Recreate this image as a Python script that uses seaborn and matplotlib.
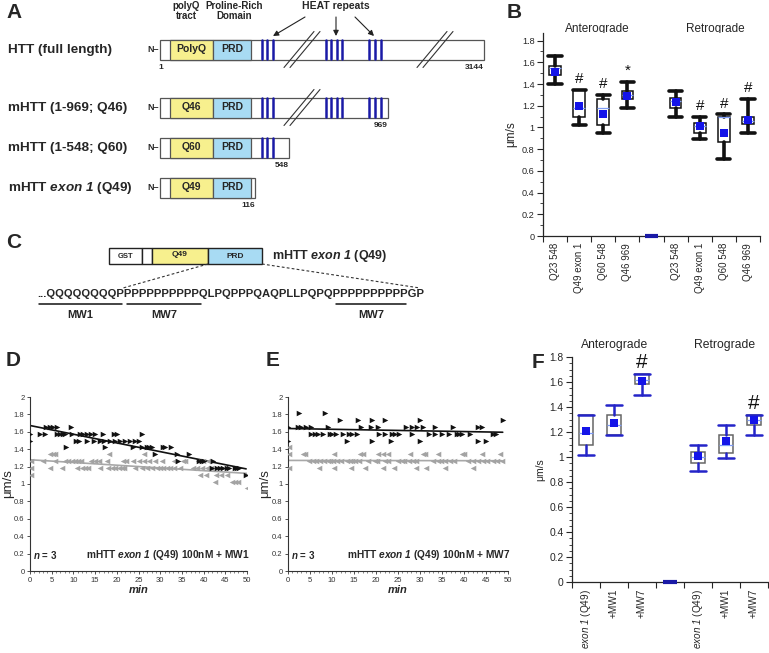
import numpy as np
import pandas as pd
import matplotlib
matplotlib.use("Agg")
import matplotlib.pyplot as plt
from matplotlib.patches import Rectangle
from matplotlib.ticker import MultipleLocator, FuncFormatter, FixedLocator
import seaborn as sns

sns.set_style("ticks")
plt.rcParams["font.family"] = ["Liberation Sans", "DejaVu Sans"]
plt.rcParams["mathtext.fontset"] = "custom"
plt.rcParams["mathtext.rm"] = "Liberation Sans"
plt.rcParams["mathtext.it"] = "Liberation Sans:italic"
plt.rcParams["mathtext.sf"] = "Liberation Sans:italic:bold"
plt.rcParams["mathtext.tt"] = "Liberation Sans:italic"
plt.rcParams["mathtext.bf"] = "Liberation Sans:bold"

# ---------------- data ----------------
# Panel B
b_labels = ["Q23 548", "Q49 exon 1", "Q60 548", "Q46 969", "",
            "Q23 548", "Q49 exon 1", "Q60 548", "Q46 969"]
b_whislo = [1.40, 1.02, 0.95, 1.18, 0.0, 1.10, 0.89, 0.71, 0.95]
b_q1     = [1.48, 1.10, 1.02, 1.26, 0.0, 1.18, 0.95, 0.87, 1.03]
b_med    = [1.55, 1.18, 1.18, 1.30, 0.0, 1.24, 1.01, 1.10, 1.06]
b_q3     = [1.57, 1.345, 1.26, 1.34, 0.0, 1.27, 1.04, 1.10, 1.10]
b_whishi = [1.66, 1.345, 1.30, 1.42, 0.0, 1.34, 1.10, 1.12, 1.26]
b_mean   = [1.51, 1.20, 1.12, 1.29, 0.0, 1.23, 1.01, 0.95, 1.07]
b_marks  = ["", "#", "#", "*", "", "", "#", "#", "#"]

# Panel F
f_labels = [r"$\mathtt{exon\ 1}$ (Q49)", "+MW1", "+MW7", "",
            r"$\mathtt{exon\ 1}$ (Q49)", "+MW1", "+MW7"]
f_whislo = [1.02, 1.18, 1.50, 0.0, 0.89, 0.99, 1.18]
f_q1     = [1.10, 1.18, 1.585, 0.0, 0.95, 1.03, 1.26]
f_med    = [1.19, 1.26, 1.62, 0.0, 1.00, 1.10, 1.30]
f_q3     = [1.34, 1.34, 1.665, 0.0, 1.04, 1.18, 1.34]
f_whishi = [1.34, 1.42, 1.665, 0.0, 1.10, 1.26, 1.34]
f_mean   = [1.21, 1.27, 1.61, 0.0, 1.01, 1.13, 1.30]
f_marks  = ["", "", "#", "", "", "", "#"]

# Panel D (MW1): time (min) of events at each velocity level (um/s)
d_antero = {
    1.66: [3.8, 4.6, 5.4, 6.3, 9.4],
    1.58: [0.0, 2.3, 3.5, 6.3, 6.9, 7.5, 8.1, 9.6, 11.5, 12.3, 13.2, 14.0, 15.0, 16.9, 19.4, 20.0, 25.7],
    1.50: [0.0, 10.6, 11.2, 13.1, 14.7, 16.1, 17.1, 18.4, 19.6, 20.7, 21.9, 23.0, 24.2, 25.2],
    1.42: [8.4, 17.3, 23.7, 25.7, 26.9, 27.5, 28.0, 30.6, 31.1, 32.6],
    1.34: [28.8, 33.8, 36.6],
    1.26: [34.2, 39.0, 39.6, 40.1, 42.2],
    1.18: [41.9, 43.0, 43.8, 44.5, 45.3, 45.9, 47.2, 47.8, 48.2],
    1.10: [49.8],
}
d_retro = {
    1.34: [4.6, 5.2, 5.8, 18.3, 26.3],
    1.26: [0.15, 3.1, 5.8, 8.1, 8.8, 9.6, 10.4, 11.1, 11.7, 14.0, 15.0, 16.0, 17.7, 21.5, 22.1,
           23.8, 25.0, 26.3, 27.5, 28.8, 30.3, 33.2, 35.2, 35.7, 38.6, 39.9, 41.1],
    1.18: [0.15, 4.5, 7.4, 10.8, 11.9, 12.7, 13.4, 16.1, 18.0, 18.8, 19.6, 20.4, 21.1, 21.7, 24.2,
           25.7, 26.9, 28.0, 29.3, 30.0, 30.7, 31.5, 32.3, 33.2, 34.6, 37.5, 38.4, 39.6, 40.7, 41.6],
    1.10: [0.15, 39.2, 40.6, 42.9, 43.9, 45.3],
    1.02: [42.6, 46.5, 47.2, 48.0],
    0.95: [49.9],
}
# Panel E (MW7)
e_antero = {
    1.82: [2.5, 8.5],
    1.74: [11.8, 15.9, 19.0, 22.0, 30.1, 48.8],
    1.66: [0.0, 2.3, 3.0, 4.2, 5.2, 9.0, 16.7, 18.8, 20.5, 26.8, 28.2, 29.4, 30.6, 33.5, 37.4, 43.2, 44.2],
    1.58: [5.3, 6.1, 6.8, 8.0, 9.5, 10.1, 10.9, 12.5, 13.9, 14.6, 15.6, 20.7, 22.0, 23.7, 24.3, 25.3,
           28.1, 32.1, 33.4, 34.9, 36.6, 38.3, 38.8, 39.5, 41.4, 46.7, 47.3],
    1.50: [0.0, 13.4, 19.0, 23.5, 30.0, 43.2, 45.1],
}
e_retro = {
    1.42: [0.2],
    1.34: [0.2, 3.3, 3.8, 10.4, 16.3, 17.1, 20.5, 21.6, 22.8, 27.7, 30.6, 31.1, 34.1, 39.5, 40.0, 44.0, 48.2],
    1.26: [4.8, 5.7, 6.3, 7.2, 8.1, 9.1, 9.6, 10.2, 11.2, 12.1, 13.4, 14.0, 14.6, 15.2, 16.2, 18.2,
           19.7, 20.3, 22.0, 22.8, 25.0, 25.8, 26.3, 27.5, 28.5, 29.2, 33.0, 34.1, 34.7, 35.7, 36.8,
           37.7, 41.0, 42.1, 43.2, 44.4, 45.3, 46.5, 47.4, 48.6],
    1.18: [0.2, 7.1, 10.4, 14.4, 17.5, 21.6, 24.1, 29.2, 31.3, 35.7, 42.1],
}

# ---------------- figure ----------------
W, H = 769, 653
fig = plt.figure(figsize=(W / 100, H / 100), dpi=100)

ov = fig.add_axes([0, 0, 1, 1])
ov.set_xlim(0, W)
ov.set_ylim(H, 0)
ov.axis("off")


def ax_px(l, t, r, b):
    return fig.add_axes([l / W, 1 - b / H, (r - l) / W, (b - t) / H])


YEL = "#f7f08e"
BLU = "#a8dbf3"
HEATC = "#1a1aa6"
EDGE = "#555555"

# ---------------- Panel A ----------------
for letter, x, y in [("A", 6, 13), ("B", 507, 13), ("C", 6, 243), ("D", 6, 360),
                     ("E", 266, 360), ("F", 532, 362)]:
    ov.text(x, y, letter, fontsize=15, fontweight="bold", va="center", ha="left")

ov.text(186, 6, "polyQ", fontsize=7, fontweight="bold", ha="center", va="center")
ov.text(186, 16, "tract", fontsize=7, fontweight="bold", ha="center", va="center")
ov.text(234, 6, "Proline-Rich", fontsize=7, fontweight="bold", ha="center", va="center")
ov.text(234, 16, "Domain", fontsize=7, fontweight="bold", ha="center", va="center")
ov.text(336, 6, "HEAT repeats", fontsize=7.5, fontweight="bold", ha="center", va="center")
for (x0, y0, x1, y1) in [(305, 17, 273, 36), (336, 17, 336, 36), (355, 17, 374, 36)]:
    ov.annotate("", xy=(x1, y1), xytext=(x0, y0),
                arrowprops=dict(arrowstyle="-|>", color="#222222", lw=0.8,
                                mutation_scale=8, shrinkA=0, shrinkB=0))

rows = [
    dict(label="HTT (full length)", yc=49.5, xe=484, q="PolyQ",
         heat=[[262, 267, 273], [326, 331, 337, 342], [369, 375, 381]],
         breaks=[302, 435], end="3144", start="1"),
    dict(label="mHTT (1-969; Q46)", yc=107.5, xe=388, q="Q46",
         heat=[[262, 267, 273], [326, 331, 337, 342], [369, 375, 381]],
         breaks=[302], end="969", start=None),
    dict(label="mHTT (1-548; Q60)", yc=147.5, xe=289, q="Q60",
         heat=[[262, 267, 273]], breaks=[], end="548", start=None),
    dict(label=r"mHTT $\mathsf{exon\ 1}$ (Q49)", yc=187.5, xe=255, q="Q49",
         heat=[], breaks=[], end="116", start=None),
]
for r in rows:
    h = 20
    yt = r["yc"] - h / 2
    yb = r["yc"] + h / 2
    ov.text(8, r["yc"], r["label"], fontsize=9.7, fontweight="bold", ha="left", va="center")
    ov.text(159, r["yc"], "N\u2013", fontsize=6.5, fontweight="bold", ha="right", va="center")
    ov.add_patch(Rectangle((160, yt), r["xe"] - 160, h, fc="white", ec=EDGE, lw=0.9, zorder=2))
    ov.add_patch(Rectangle((170, yt), 43, h, fc=YEL, ec=EDGE, lw=0.9, zorder=3))
    ov.add_patch(Rectangle((213, yt), 38, h, fc=BLU, ec=EDGE, lw=0.9, zorder=3))
    ov.text(191.5, r["yc"], r["q"], fontsize=7.5, fontweight="bold", ha="center", va="center", zorder=4)
    ov.text(232, r["yc"], "PRD", fontsize=7.5, fontweight="bold", ha="center", va="center", zorder=4)
    for grp in r["heat"]:
        for hx in grp:
            ov.plot([hx, hx], [yt + 0.5, yb - 0.5], color=HEATC, lw=1.8, zorder=4)
    for cx in r["breaks"]:
        for off in (-3, 3):
            ov.plot([cx - 15 + off, cx + 15 + off], [yb + 8, yt - 8], color="#333333",
                    lw=0.8, zorder=5)
    ov.text(r["xe"], yb + 8, r["end"], fontsize=6, fontweight="bold", ha="right", va="center")
    if r["start"]:
        ov.text(161, yb + 8, r["start"], fontsize=6, fontweight="bold", ha="center", va="center")

# ---------------- Panel C ----------------
cy0, cy1 = 248, 264
ov.add_patch(Rectangle((109, cy0), 33, cy1 - cy0, fc="white", ec="#222222", lw=1.0))
ov.add_patch(Rectangle((142, cy0), 10, cy1 - cy0, fc="white", ec="#222222", lw=1.0))
ov.add_patch(Rectangle((152, cy0), 56, cy1 - cy0, fc=YEL, ec="#222222", lw=1.0))
ov.add_patch(Rectangle((208, cy0), 54, cy1 - cy0, fc=BLU, ec="#222222", lw=1.0))
ov.text(125.5, 256, "GST", fontsize=5.5, fontweight="bold", ha="center", va="center")
ov.text(180, 255, "Q49", fontsize=6, fontweight="bold", ha="center", va="center")
ov.text(235, 256.5, "PRD", fontsize=6, fontweight="bold", ha="center", va="center")
ov.text(272, 255.5, r"mHTT $\mathsf{exon\ 1}$ (Q49)", fontsize=9, fontweight="bold",
        ha="left", va="center")
ov.plot([208, 123], [264, 288], ls=(0, (2.5, 2)), color="#333333", lw=0.8)
ov.plot([262, 420], [264, 288], ls=(0, (2.5, 2)), color="#333333", lw=0.8)
ov.text(37, 294, "...QQQQQQQQPPPPPPPPPPPQLPQPPPQAQPLLPQPQPPPPPPPPPPGP", fontsize=8.1,
        fontweight="bold", ha="left", va="center")
for (xa, xb, lab) in [(39, 122, "MW1"), (127, 201, "MW7"), (336, 406, "MW7")]:
    ov.plot([xa, xb], [304, 304], color="#111111", lw=1.1)
    ov.text((xa + xb) / 2, 315, lab, fontsize=8, fontweight="bold", ha="center", va="center")


# ---------------- box panels ----------------
def fmt(v, p):
    return "%g" % round(v, 2)


def box_panel(ax, labels, wlo, q1, med, q3, whi, mean, marks, box_ec, whisk_c, wl, cap_lw,
              ylim, major_fs, label_fs, minor_step, mark_fs, mark_off):
    pos = list(range(len(labels)))
    stats = []
    keep = []
    for i in pos:
        if whi[i] == 0 and q3[i] == 0:
            continue
        keep.append(i)
        stats.append(dict(whislo=wlo[i], q1=q1[i], med=med[i], q3=q3[i], whishi=whi[i],
                          mean=mean[i], fliers=[]))
    ax.bxp(stats, positions=keep, widths=0.48, capwidths=0.55, showmeans=False,
           showfliers=False, patch_artist=True,
           boxprops=dict(facecolor="white", edgecolor=box_ec, lw=1.1),
           whiskerprops=dict(color=whisk_c, lw=wl),
           capprops=dict(color=whisk_c, lw=cap_lw),
           medianprops=dict(color="#7f9cf5", lw=0.9))
    dfm = pd.DataFrame({"x": keep, "y": [mean[i] for i in keep]})
    sns.scatterplot(data=dfm, x="x", y="y", marker="s", color="#1414e8", s=38,
                    edgecolor="#1414e8", linewidth=0, zorder=5, ax=ax)
    for i in pos:
        if i not in keep:
            ax.plot([i - 0.25, i + 0.25], [mean[i], mean[i]], color="#1a1aa6", lw=3,
                    solid_capstyle="butt", zorder=6, clip_on=False)
        if marks[i]:
            ax.text(i, whi[i] + mark_off, marks[i], ha="center", va="center",
                    fontsize=mark_fs, color="#111111")
    ax.set_xlim(-0.5, len(labels) - 0.5)
    ax.set_ylim(*ylim)
    ax.set_xticks(pos)
    ax.set_xticklabels(labels, rotation=90, fontsize=label_fs)
    ax.xaxis.set_minor_locator(FixedLocator(np.arange(-0.5, len(labels), 1.0)))
    ax.tick_params(axis="x", which="major", length=0, pad=5)
    ax.tick_params(axis="x", which="minor", length=4, width=0.8)
    ax.yaxis.set_major_locator(MultipleLocator(0.2))
    ax.yaxis.set_minor_locator(MultipleLocator(minor_step))
    ax.yaxis.set_major_formatter(FuncFormatter(fmt))
    ax.tick_params(axis="y", which="major", length=4, width=0.8, labelsize=major_fs, pad=2)
    ax.tick_params(axis="y", which="minor", length=2, width=0.6)
    ax.set_xlabel("")
    ax.set_ylabel("")
    sns.despine(ax=ax)
    for s in ("left", "bottom"):
        ax.spines[s].set_linewidth(0.9)


axB = ax_px(543, 33, 760, 236)
box_panel(axB, b_labels, b_whislo, b_q1, b_med, b_q3, b_whishi, b_mean, b_marks,
          box_ec="#111111", whisk_c="#111111", wl=2.6, cap_lw=2.6, ylim=(0, 1.87),
          major_fs=6.6, label_fs=7, minor_step=0.1, mark_fs=11, mark_off=0.1)
axB.set_ylabel("\u03bcm/s", fontsize=8.5, labelpad=3)
ov.text(597, 29, "Anterograde", fontsize=8.5, ha="center", va="center")
ov.text(715, 29, "Retrograde", fontsize=8.5, ha="center", va="center")

axF = ax_px(572, 357, 768, 582)
box_panel(axF, f_labels, f_whislo, f_q1, f_med, f_q3, f_whishi, f_mean, f_marks,
          box_ec="#666666", whisk_c="#2424c8", wl=1.8, cap_lw=1.8, ylim=(0, 1.8),
          major_fs=7.4, label_fs=7.2, minor_step=0.05, mark_fs=15, mark_off=0.09)
axF.set_ylabel("\u03bcm/s", fontsize=7.5, labelpad=3)
ov.text(615, 345, "Anterograde", fontsize=8.7, ha="center", va="center")
ov.text(725, 345, "Retrograde", fontsize=8.7, ha="center", va="center")


# ---------------- scatter panels ----------------
def to_df(d):
    t, v = [], []
    for lev, times in d.items():
        t += times
        v += [lev] * len(times)
    return pd.DataFrame({"min": t, "v": v})


def scatter_panel(ax, ant, ret, note, ylab_x):
    da = to_df(ant)
    dr = to_df(ret)
    sns.scatterplot(data=dr, x="min", y="v", marker="<", color="#a3a3a3", s=16,
                    linewidth=0, ax=ax, zorder=3)
    sns.scatterplot(data=da, x="min", y="v", marker=">", color="#111111", s=16,
                    linewidth=0, ax=ax, zorder=4)
    sns.regplot(data=dr, x="min", y="v", scatter=False, ci=None, color="#a8a8a8",
                line_kws=dict(lw=1.2), ax=ax)
    sns.regplot(data=da, x="min", y="v", scatter=False, ci=None, color="#111111",
                line_kws=dict(lw=1.2), ax=ax)
    ax.set_xlim(0, 50)
    ax.set_ylim(0, 2.0)
    ax.xaxis.set_major_locator(MultipleLocator(5))
    ax.xaxis.set_minor_locator(MultipleLocator(1))
    ax.yaxis.set_major_locator(MultipleLocator(0.2))
    ax.yaxis.set_major_formatter(FuncFormatter(fmt))
    ax.tick_params(axis="both", which="major", length=2.5, width=0.6, labelsize=5.5, pad=1.5,
                   colors="#333333")
    ax.tick_params(axis="x", which="minor", length=1.3, width=0.5, colors="#555555")
    ax.set_xlabel("min", fontsize=8, fontweight="bold", style="italic", labelpad=1)
    ax.set_ylabel("\u03bcm/s", fontsize=9.5)
    ax.yaxis.set_label_coords(ylab_x, 0.5)
    sns.despine(ax=ax)
    for s in ("left", "bottom"):
        ax.spines[s].set_linewidth(0.8)
        ax.spines[s].set_color("#333333")
    ax.text(0.015, 0.09, r"$\mathsf{n}$ = 3", transform=ax.transAxes, fontsize=7,
            fontweight="bold", ha="left", va="center")
    ax.text(1.01, 0.09, note, transform=ax.transAxes, fontsize=7.3, fontweight="bold",
            ha="right", va="center")


axD = ax_px(30, 397, 247, 571)
scatter_panel(axD, d_antero, d_retro, r"mHTT $\mathsf{exon\ 1}$ (Q49) 100nM + MW1", -0.075)
axE = ax_px(288, 397, 508, 571)
scatter_panel(axE, e_antero, e_retro, r"mHTT $\mathsf{exon\ 1}$ (Q49) 100nM + MW7", -0.075)

fig.savefig("out.png", dpi=100)
